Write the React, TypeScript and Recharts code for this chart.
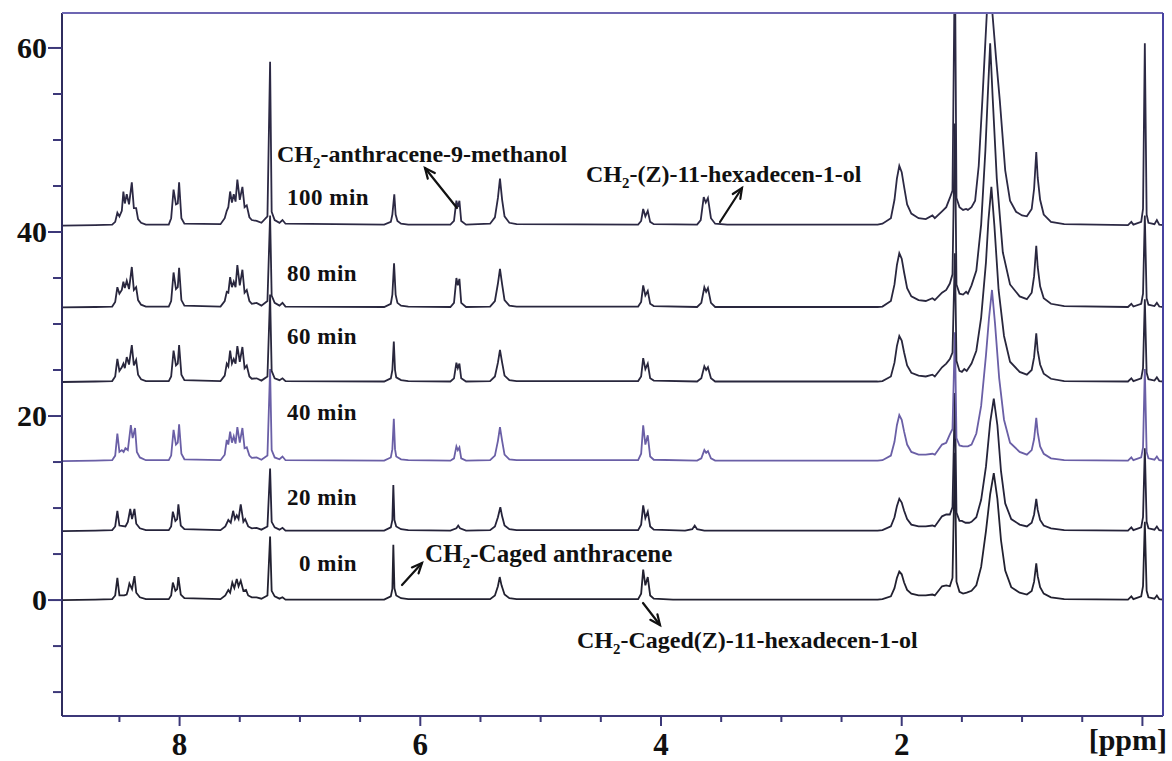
import React from 'react';
import { LineChart, Line, XAxis, YAxis } from 'recharts';

type Pt = [number, number];

// ---------- data ----------
const traceLabels = ['0 min', '20 min', '40 min', '60 min', '80 min', '100 min'];
const traceOffsets = [0, 7.5, 15.1, 23.7, 31.8, 40.7];
const xTicks = [0, 0.5, 1, 1.5, 2, 2.5, 3, 3.5, 4, 4.5, 5, 5.5, 6, 6.5, 7, 7.5, 8, 8.5];
const xMajorTicks = [0, 2, 4, 6, 8];
const xTickLabels = [2, 4, 6, 8];
const xUnitLabel = '[ppm]';
const yTicks = [-10, -5, 0, 5, 10, 15, 20, 25, 30, 35, 40, 45, 50, 55, 60];
const yTickLabels = [0, 20, 40, 60];
const xDomain: [number, number] = [-0.171, 8.977];
const yDomain: [number, number] = [-12.6, 63.8];

const spec0: Pt[] = [
  [8.98, 0], [8.7, 0.05], [8.56, 0.1], [8.535, 0.5], [8.517, 2.4], [8.5, 0.5], [8.46, 0.5], [8.44, 0.6], [8.43, 1.0], [8.417, 1.8], [8.395, 1.2], [8.375, 2.6], [8.36, 0.8], [8.33, 0.3], [8.28, 0.1],
  [8.09, 0.1], [8.07, 0.5], [8.056, 1.9], [8.035, 1.0], [8.02, 1.2], [8.01, 2.5], [7.99, 0.6], [7.96, 0.2],
  [7.66, 0.1], [7.62, 0.5], [7.595, 1.1], [7.58, 0.8], [7.562, 1.9], [7.545, 1.3], [7.525, 2.3], [7.51, 1.5], [7.492, 2.1], [7.47, 1.0], [7.448, 1.1], [7.43, 0.5], [7.4, 0.3], [7.36, 0.3], [7.32, 0.15],
  [7.27, 0.5], [7.248, 6.9], [7.235, 1.0], [7.21, 0.4], [7.17, 0.15], [7.145, 0.3], [7.12, 0.05],
  [6.3, 0.05], [6.245, 0.4], [6.232, 1.2], [6.224, 6.0], [6.215, 1.3], [6.2, 0.5], [6.16, 0.2], [6.1, 0.1],
  [5.42, 0.1], [5.38, 0.5], [5.355, 1.5], [5.34, 2.5], [5.325, 1.6], [5.3, 0.6], [5.26, 0.2], [5.2, 0.1],
  [4.19, 0.1], [4.165, 0.7], [4.148, 3.3], [4.13, 1.6], [4.11, 2.5], [4.09, 0.5], [4.06, 0.15], [3.9, 0.05],
  [2.2, 0.05], [2.16, 0.1], [2.09, 0.4], [2.06, 1.3], [2.04, 2.4], [2.02, 3.1], [2.0, 2.8], [1.98, 1.9], [1.955, 1.1], [1.92, 0.7], [1.86, 0.5],
  [1.8, 0.5], [1.745, 0.6], [1.725, 0.5], [1.665, 1.5], [1.63, 1.6], [1.6, 1.5], [1.578, 2.4], [1.558, 16], [1.545, 2.0], [1.52, 0.9], [1.49, 0.7], [1.46, 0.8],
  [1.42, 1.0], [1.38, 1.6], [1.34, 3.6], [1.3, 7.5], [1.265, 11.5], [1.235, 13.8], [1.205, 11.0], [1.175, 6.5], [1.14, 3.2], [1.09, 1.4], [1.02, 0.8],
  [0.96, 0.6], [0.92, 1.0], [0.9, 2.0], [0.882, 4.0], [0.87, 2.6], [0.85, 1.4], [0.82, 0.7], [0.76, 0.3], [0.65, 0.1],
  [0.12, 0.05], [0.092, 0.4], [0.075, 0.1], [0.01, 0.4], [-0.005, 1.5], [-0.02, 8.5], [-0.035, 1.0], [-0.05, 0.3], [-0.1, 0.15], [-0.12, 0.5], [-0.14, 0.1], [-0.171, 0.05],
];

const spec20: Pt[] = [
  [8.98, 0], [8.7, 0.05], [8.56, 0.1], [8.535, 0.5], [8.517, 2.2], [8.5, 0.6], [8.45, 0.5], [8.43, 1.0], [8.41, 2.4], [8.395, 1.3], [8.375, 2.4], [8.36, 0.8], [8.33, 0.3], [8.28, 0.1],
  [8.09, 0.1], [8.07, 0.5], [8.056, 2.1], [8.035, 1.1], [8.02, 1.3], [8.01, 2.9], [7.99, 0.6], [7.96, 0.2],
  [7.66, 0.1], [7.62, 0.5], [7.595, 1.2], [7.575, 0.9], [7.555, 2.2], [7.54, 1.3], [7.525, 1.7], [7.51, 1.3], [7.492, 2.9], [7.47, 1.0], [7.455, 1.3], [7.43, 0.5], [7.4, 0.3], [7.36, 0.35], [7.32, 0.15],
  [7.27, 0.5], [7.248, 6.8], [7.235, 1.0], [7.21, 0.4], [7.17, 0.15], [7.145, 0.35], [7.12, 0.05],
  [6.3, 0.05], [6.245, 0.4], [6.232, 1.2], [6.224, 5.0], [6.215, 1.2], [6.2, 0.5], [6.16, 0.2], [6.1, 0.1],
  [5.75, 0.05], [5.7, 0.3], [5.685, 0.6], [5.67, 0.3], [5.62, 0.05],
  [5.42, 0.1], [5.38, 0.5], [5.355, 1.5], [5.335, 2.6], [5.32, 1.6], [5.3, 0.6], [5.26, 0.2], [5.2, 0.1],
  [4.19, 0.1], [4.165, 0.7], [4.148, 2.8], [4.13, 1.4], [4.11, 2.1], [4.09, 0.5], [4.06, 0.15],
  [3.8, 0.05], [3.74, 0.2], [3.72, 0.6], [3.7, 0.2], [3.64, 0.05],
  [2.2, 0.05], [2.16, 0.1], [2.09, 0.5], [2.06, 1.5], [2.04, 2.7], [2.02, 3.5], [2.0, 3.1], [1.98, 2.2], [1.955, 1.3], [1.92, 0.7], [1.86, 0.5],
  [1.8, 0.5], [1.745, 0.6], [1.725, 0.5], [1.665, 1.6], [1.63, 1.8], [1.6, 1.8], [1.578, 2.6], [1.558, 15], [1.545, 2.0], [1.52, 1.1], [1.5, 1.1], [1.47, 0.9], [1.44, 0.9],
  [1.42, 1.0], [1.38, 1.5], [1.34, 3.4], [1.3, 7.0], [1.265, 11.8], [1.235, 14.4], [1.205, 11.5], [1.175, 6.5], [1.14, 3.0], [1.09, 1.3], [1.02, 0.7],
  [0.96, 0.5], [0.92, 0.9], [0.9, 1.8], [0.882, 3.5], [0.87, 2.3], [0.85, 1.2], [0.82, 0.6], [0.76, 0.3], [0.65, 0.1],
  [0.12, 0.05], [0.092, 0.4], [0.075, 0.1], [0.01, 0.4], [-0.005, 1.5], [-0.02, 9], [-0.035, 1.0], [-0.05, 0.3], [-0.1, 0.15], [-0.12, 0.5], [-0.14, 0.1], [-0.171, 0.05],
];

const spec40: Pt[] = [
  [8.98, 0], [8.7, 0.05], [8.56, 0.1], [8.535, 0.6], [8.517, 3.0], [8.5, 1.0], [8.48, 1.2], [8.465, 1.0], [8.45, 1.4], [8.43, 1.2], [8.405, 3.9], [8.39, 2.5], [8.37, 3.6], [8.355, 1.0], [8.33, 0.4], [8.28, 0.1],
  [8.09, 0.1], [8.07, 0.6], [8.05, 3.4], [8.03, 1.8], [8.015, 2.0], [8.004, 4.0], [7.985, 0.8], [7.96, 0.2],
  [7.66, 0.1], [7.625, 0.7], [7.608, 2.3], [7.595, 1.8], [7.58, 3.2], [7.565, 2.0], [7.55, 2.7], [7.535, 1.9], [7.52, 3.7], [7.5, 2.0], [7.478, 3.6], [7.46, 1.4], [7.442, 1.5], [7.42, 0.6], [7.4, 0.35], [7.36, 0.4], [7.32, 0.15],
  [7.27, 0.6], [7.248, 10], [7.235, 1.2], [7.21, 0.4], [7.17, 0.2], [7.145, 0.5], [7.12, 0.1],
  [6.3, 0.05], [6.245, 0.4], [6.232, 1.3], [6.22, 4.6], [6.21, 1.3], [6.2, 0.5], [6.16, 0.2], [6.1, 0.1],
  [5.75, 0.05], [5.72, 0.3], [5.7, 1.6], [5.688, 1.2], [5.675, 1.5], [5.66, 0.3], [5.62, 0.05],
  [5.42, 0.1], [5.38, 0.6], [5.355, 2.2], [5.338, 3.7], [5.32, 2.2], [5.3, 0.7], [5.26, 0.2], [5.2, 0.1],
  [4.19, 0.1], [4.165, 0.8], [4.148, 3.9], [4.13, 1.8], [4.11, 2.8], [4.09, 0.5], [4.06, 0.15],
  [3.7, 0.05], [3.665, 0.3], [3.64, 1.2], [3.625, 0.9], [3.61, 1.1], [3.585, 0.3], [3.55, 0.05],
  [2.2, 0.05], [2.16, 0.1], [2.09, 0.6], [2.06, 2.1], [2.04, 3.9], [2.02, 5.0], [2.0, 4.5], [1.98, 3.2], [1.955, 1.8], [1.92, 1.0], [1.86, 0.7],
  [1.8, 0.7], [1.745, 0.8], [1.725, 0.7], [1.665, 1.8], [1.63, 2.0], [1.6, 2.9], [1.578, 3.5], [1.558, 14], [1.545, 2.5], [1.52, 1.7], [1.49, 1.6], [1.465, 1.6], [1.45, 1.6],
  [1.42, 1.8], [1.38, 3.0], [1.34, 6.0], [1.3, 11.5], [1.275, 15.5], [1.25, 18.6], [1.225, 15.0], [1.19, 9.0], [1.15, 4.5], [1.1, 2.0], [1.02, 1.0],
  [0.96, 0.7], [0.92, 1.2], [0.9, 2.4], [0.882, 4.7], [0.87, 3.1], [0.85, 1.6], [0.82, 0.8], [0.76, 0.3], [0.65, 0.1],
  [0.12, 0.05], [0.092, 0.4], [0.075, 0.1], [0.01, 0.4], [-0.005, 1.5], [-0.02, 10], [-0.035, 1.0], [-0.05, 0.3], [-0.1, 0.15], [-0.12, 0.5], [-0.14, 0.1], [-0.171, 0.05],
];

const spec60: Pt[] = [
  [8.98, 0], [8.7, 0.05], [8.56, 0.1], [8.535, 0.6], [8.517, 2.5], [8.5, 1.2], [8.48, 1.6], [8.467, 2.0], [8.455, 1.5], [8.439, 2.7], [8.42, 1.9], [8.397, 4.0], [8.38, 1.8], [8.361, 2.4], [8.345, 0.8], [8.32, 0.3], [8.28, 0.1],
  [8.09, 0.1], [8.07, 0.6], [8.05, 3.4], [8.03, 1.8], [8.015, 2.0], [8.004, 4.0], [7.985, 0.8], [7.96, 0.2],
  [7.66, 0.1], [7.625, 0.7], [7.608, 2.0], [7.595, 1.7], [7.58, 3.4], [7.565, 2.0], [7.55, 2.5], [7.535, 2.0], [7.52, 3.9], [7.5, 2.2], [7.478, 3.8], [7.46, 1.5], [7.442, 1.8], [7.42, 0.6], [7.4, 0.35], [7.36, 0.4], [7.32, 0.15],
  [7.27, 0.6], [7.248, 9.5], [7.235, 1.2], [7.21, 0.4], [7.17, 0.2], [7.145, 0.4], [7.12, 0.1],
  [6.3, 0.05], [6.245, 0.4], [6.232, 1.3], [6.22, 4.4], [6.21, 1.3], [6.2, 0.5], [6.16, 0.2], [6.1, 0.1],
  [5.75, 0.05], [5.72, 0.4], [5.7, 2.1], [5.688, 1.5], [5.675, 2.0], [5.66, 0.4], [5.62, 0.05],
  [5.42, 0.1], [5.38, 0.6], [5.355, 2.1], [5.338, 3.5], [5.32, 2.1], [5.3, 0.7], [5.26, 0.2], [5.2, 0.1],
  [4.19, 0.1], [4.165, 0.6], [4.148, 2.6], [4.13, 1.4], [4.11, 2.0], [4.09, 0.4], [4.06, 0.15],
  [3.7, 0.05], [3.665, 0.4], [3.64, 1.7], [3.625, 1.3], [3.61, 1.6], [3.585, 0.4], [3.55, 0.05],
  [2.2, 0.05], [2.16, 0.1], [2.09, 0.6], [2.06, 2.1], [2.04, 3.9], [2.02, 5.0], [2.0, 4.5], [1.98, 3.2], [1.955, 1.8], [1.92, 1.0], [1.86, 0.7],
  [1.8, 0.6], [1.745, 0.8], [1.725, 0.6], [1.665, 1.6], [1.63, 2.0], [1.6, 2.5], [1.578, 3.2], [1.558, 14], [1.545, 2.3], [1.52, 1.2], [1.5, 1.1], [1.48, 1.4], [1.46, 1.2],
  [1.42, 2.0], [1.38, 3.4], [1.34, 7.0], [1.3, 13.0], [1.28, 17.5], [1.255, 21.2], [1.23, 17.0], [1.195, 10.0], [1.15, 5.0], [1.1, 2.2], [1.02, 1.1],
  [0.96, 0.8], [0.92, 1.3], [0.9, 2.7], [0.882, 5.3], [0.87, 3.4], [0.85, 1.9], [0.82, 0.9], [0.76, 0.35], [0.65, 0.1],
  [0.12, 0.05], [0.092, 0.4], [0.075, 0.1], [0.01, 0.4], [-0.005, 1.5], [-0.02, 9], [-0.035, 1.0], [-0.05, 0.3], [-0.1, 0.15], [-0.12, 0.5], [-0.14, 0.1], [-0.171, 0.05],
];

const spec80: Pt[] = [
  [8.98, 0], [8.7, 0.05], [8.56, 0.1], [8.535, 0.6], [8.517, 2.2], [8.5, 1.5], [8.48, 1.9], [8.467, 2.8], [8.455, 2.1], [8.439, 2.9], [8.42, 2.0], [8.397, 4.4], [8.38, 1.9], [8.361, 2.2], [8.345, 0.8], [8.32, 0.3], [8.28, 0.1],
  [8.09, 0.1], [8.07, 0.7], [8.05, 3.8], [8.03, 2.0], [8.015, 2.2], [8.004, 4.3], [7.985, 0.8], [7.96, 0.2],
  [7.66, 0.1], [7.625, 0.7], [7.608, 1.7], [7.595, 1.6], [7.58, 3.3], [7.565, 2.2], [7.55, 2.8], [7.535, 2.2], [7.52, 4.6], [7.5, 2.4], [7.478, 4.1], [7.46, 1.6], [7.442, 1.9], [7.42, 0.7], [7.4, 0.4], [7.36, 0.5], [7.32, 0.2],
  [7.27, 0.7], [7.248, 10], [7.235, 1.3], [7.21, 0.5], [7.17, 0.2], [7.145, 0.5], [7.12, 0.1],
  [6.3, 0.05], [6.245, 0.4], [6.232, 1.4], [6.218, 4.8], [6.205, 1.4], [6.19, 0.5], [6.16, 0.2], [6.1, 0.1],
  [5.75, 0.05], [5.72, 0.5], [5.7, 3.2], [5.688, 2.4], [5.675, 3.1], [5.66, 0.5], [5.62, 0.05],
  [5.42, 0.1], [5.38, 0.7], [5.355, 2.6], [5.338, 4.2], [5.32, 2.5], [5.3, 0.8], [5.26, 0.2], [5.2, 0.1],
  [4.19, 0.1], [4.165, 0.6], [4.148, 2.4], [4.13, 1.3], [4.11, 1.8], [4.09, 0.4], [4.06, 0.15],
  [3.7, 0.05], [3.665, 0.5], [3.64, 2.2], [3.625, 1.7], [3.61, 2.1], [3.585, 0.5], [3.55, 0.05],
  [2.2, 0.05], [2.16, 0.1], [2.09, 0.7], [2.06, 2.5], [2.04, 4.6], [2.02, 5.9], [2.0, 5.3], [1.98, 3.8], [1.955, 2.1], [1.92, 1.2], [1.86, 0.8],
  [1.8, 0.7], [1.745, 1.0], [1.725, 0.8], [1.665, 1.6], [1.63, 1.9], [1.6, 2.6], [1.578, 3.6], [1.558, 20], [1.545, 2.5], [1.52, 1.5], [1.49, 1.4], [1.465, 1.7], [1.45, 1.5],
  [1.42, 2.4], [1.38, 4.0], [1.34, 9.0], [1.305, 17.0], [1.285, 23.0], [1.265, 28.7], [1.245, 23.0], [1.21, 14.0], [1.16, 6.0], [1.1, 2.5], [1.02, 1.2],
  [0.96, 0.9], [0.92, 1.6], [0.9, 3.4], [0.882, 6.7], [0.87, 4.4], [0.85, 2.3], [0.82, 1.0], [0.76, 0.4], [0.65, 0.15],
  [0.12, 0.05], [0.092, 0.4], [0.075, 0.1], [0.01, 0.4], [-0.005, 1.5], [-0.02, 10], [-0.035, 1.0], [-0.05, 0.3], [-0.1, 0.15], [-0.12, 0.5], [-0.14, 0.1], [-0.171, 0.05],
];

const spec100: Pt[] = [
  [8.98, 0], [8.7, 0.05], [8.56, 0.1], [8.535, 0.4], [8.517, 1.4], [8.5, 1.0], [8.48, 1.6], [8.467, 3.7], [8.455, 2.4], [8.439, 3.4], [8.42, 2.3], [8.397, 4.7], [8.38, 1.9], [8.361, 1.9], [8.345, 0.7], [8.32, 0.3], [8.28, 0.1],
  [8.09, 0.1], [8.07, 0.8], [8.05, 3.9], [8.03, 2.3], [8.015, 2.4], [8.004, 4.7], [7.985, 0.8], [7.96, 0.2],
  [7.66, 0.15], [7.625, 0.8], [7.608, 1.6], [7.595, 2.0], [7.58, 3.7], [7.565, 2.5], [7.55, 3.4], [7.535, 2.6], [7.52, 5.0], [7.5, 2.8], [7.478, 4.2], [7.46, 2.0], [7.442, 2.2], [7.42, 0.9], [7.4, 0.6], [7.36, 0.5], [7.32, 0.3],
  [7.27, 1.0], [7.248, 17.8], [7.235, 1.5], [7.21, 0.6], [7.17, 0.3], [7.145, 0.6], [7.12, 0.2],
  [6.3, 0.1], [6.245, 0.4], [6.232, 1.2], [6.216, 3.4], [6.205, 1.2], [6.19, 0.5], [6.16, 0.2], [6.1, 0.1],
  [5.75, 0.1], [5.72, 0.5], [5.7, 2.7], [5.688, 2.0], [5.675, 2.7], [5.66, 0.5], [5.62, 0.1],
  [5.42, 0.2], [5.38, 0.9], [5.355, 3.0], [5.338, 5.1], [5.32, 2.8], [5.3, 1.0], [5.26, 0.3], [5.2, 0.15],
  [4.19, 0.1], [4.165, 0.5], [4.148, 1.8], [4.13, 1.0], [4.11, 1.6], [4.09, 0.4], [4.06, 0.15],
  [3.7, 0.1], [3.67, 0.6], [3.645, 3.1], [3.628, 2.5], [3.61, 3.0], [3.585, 0.8], [3.55, 0.2], [3.45, 0.1],
  [2.2, 0.1], [2.16, 0.2], [2.09, 0.8], [2.06, 2.8], [2.04, 5.1], [2.02, 6.5], [2.0, 5.8], [1.98, 4.2], [1.955, 2.3], [1.92, 1.3], [1.86, 0.8],
  [1.8, 0.7], [1.745, 1.1], [1.725, 0.8], [1.665, 1.55], [1.63, 2.0], [1.6, 3.0], [1.578, 3.8], [1.558, 30], [1.545, 3.0], [1.52, 2.0], [1.49, 1.7], [1.465, 1.8], [1.45, 1.7],
  [1.42, 2.0], [1.39, 2.7], [1.36, 6.5], [1.33, 13.6], [1.293, 23], [1.27, 30], [1.246, 23], [1.215, 18], [1.185, 13.6], [1.14, 6.0], [1.1, 2.7], [1.05, 1.5], [1.0, 1.1],
  [0.96, 1.0], [0.92, 1.8], [0.9, 4.0], [0.882, 8.0], [0.87, 5.2], [0.85, 2.8], [0.82, 1.2], [0.76, 0.4], [0.65, 0.15],
  [0.12, 0.05], [0.092, 0.4], [0.075, 0.1], [0.01, 0.4], [-0.005, 1.8], [-0.02, 19.8], [-0.035, 1.2], [-0.05, 0.3], [-0.1, 0.15], [-0.12, 0.6], [-0.14, 0.1], [-0.171, 0.05],
];

const spectra: Pt[][] = [spec0, spec20, spec40, spec60, spec80, spec100];

// ---------- styles ----------
const FONT = "'Liberation Serif','Times New Roman',serif";
const traceColors = ['#222130', '#25233a', '#6a5fa6', '#29273d', '#29273e', '#2c2944'];
const axisColor = '#3c3879';

const series = spectra.map((s, i) => s.map(([x, v]) => ({ x, y: v + traceOffsets[i] })));

function XTick(props: any) {
  const { x, y, payload } = props;
  const v = payload.value;
  const major = xMajorTicks.includes(v);
  return (
    <g>
      <line x1={x} x2={x} y1={y} y2={y + (major ? 10 : 6)} stroke={axisColor} strokeWidth={2} />
      {xTickLabels.includes(v) && (
        <text x={x} y={y + 39} textAnchor="middle" fontFamily={FONT} fontWeight="bold" fontSize={31} fill="#111">
          {v}
        </text>
      )}
    </g>
  );
}

function YTick(props: any) {
  const { x, y, payload } = props;
  const v = payload.value;
  const major = yTickLabels.includes(v);
  return (
    <g>
      <line x1={x - (major ? 14 : 9)} x2={x} y1={y} y2={y} stroke={axisColor} strokeWidth={2} />
      {major && (
        <text x={x - 15} y={y + 10} textAnchor="end" fontFamily={FONT} fontWeight="bold" fontSize={30} fill="#111">
          {v}
        </text>
      )}
    </g>
  );
}

function Arrow({ x1, y1, x2, y2 }: { x1: number; y1: number; x2: number; y2: number }) {
  const ang = Math.atan2(y2 - y1, x2 - x1);
  const L = 11;
  const a = 0.42;
  const p1 = [x2 - L * Math.cos(ang - a), y2 - L * Math.sin(ang - a)];
  const p2 = [x2 - L * Math.cos(ang + a), y2 - L * Math.sin(ang + a)];
  return (
    <g stroke="#111" strokeWidth={2.2} fill="none" strokeLinecap="round">
      <line x1={x1} y1={y1} x2={x2} y2={y2} />
      <polyline points={`${p1[0]},${p1[1]} ${x2},${y2} ${p2[0]},${p2[1]}`} />
    </g>
  );
}

function Chem({ x, y, pre, post, fs = 24 }: { x: number; y: number; pre: string; post: string; fs?: number }) {
  return (
    <text x={x} y={y} fontFamily={FONT} fontWeight="bold" fontSize={fs} fill="#111">
      {pre}
      <tspan fontSize={fs * 0.62} dy={6}>2</tspan>
      <tspan dy={-6}>{post}</tspan>
    </text>
  );
}

const minLabelPos = [
  { x: 299, y: 571 },
  { x: 287, y: 505 },
  { x: 287, y: 420 },
  { x: 287, y: 344 },
  { x: 287, y: 281 },
  { x: 287, y: 205 },
];

export default function App() {
  return (
    <div style={{ position: 'absolute', left: 0, top: 0, width: 1172, height: 761, background: '#fff' }}>
      <LineChart width={1172} height={761} margin={{ top: 13, right: 9, bottom: 0, left: 0 }}>
        <XAxis
          dataKey="x"
          type="number"
          domain={xDomain}
          reversed
          allowDataOverflow
          ticks={xTicks}
          interval={0}
          height={45}
          tickSize={0}
          tickMargin={0}
          tickLine={false}
          axisLine={{ stroke: axisColor, strokeWidth: 2 }}
          tick={XTick}
        />
        <YAxis
          type="number"
          domain={yDomain}
          allowDataOverflow
          ticks={yTicks}
          interval={0}
          width={62}
          tickSize={0}
          tickMargin={0}
          tickLine={false}
          axisLine={{ stroke: '#2f2c5e', strokeWidth: 2 }}
          tick={YTick}
        />
        {series.map((d, i) => (
          <Line
            key={traceLabels[i]}
            name={traceLabels[i]}
            data={d}
            dataKey="y"
            type="linear"
            stroke={traceColors[i]}
            strokeWidth={1.8}
            dot={false}
            activeDot={false}
            isAnimationActive={false}
          />
        ))}
      </LineChart>
      <svg width={1172} height={761} style={{ position: 'absolute', left: 0, top: 0, pointerEvents: 'none' }}>
        <line x1={62} y1={13} x2={1163} y2={13} stroke="#6d66b2" strokeWidth={2} />
        <line x1={1163} y1={13} x2={1163} y2={716} stroke="#4742a0" strokeWidth={2} />
        <text x={1167} y={750} textAnchor="end" fontFamily={FONT} fontWeight="bold" fontSize={30} fill="#111">
          {xUnitLabel}
        </text>
        {traceLabels.map((t, i) => (
          <text key={t} x={minLabelPos[i].x} y={minLabelPos[i].y} fontFamily={FONT} fontWeight="bold" fontSize={23} fill="#111" letterSpacing={0.5}>
            {t}
          </text>
        ))}
        <Chem x={277} y={162} pre="CH" post="-anthracene-9-methanol" />
        <Arrow x1={457} y1={208} x2={425} y2={168} />
        <Chem x={586} y={182} pre="CH" post="-(Z)-11-hexadecen-1-ol" />
        <Arrow x1={720} y1={222} x2={742} y2={188} />
        <Chem x={425} y={562} pre="CH" post="-Caged anthracene" fs={25} />
        <Arrow x1={402} y1={585} x2={422} y2={563} />
        <Chem x={577} y={648} pre="CH" post="-Caged(Z)-11-hexadecen-1-ol" fs={24} />
        <Arrow x1={643} y1={603} x2={660} y2={625} />
      </svg>
    </div>
  );
}
